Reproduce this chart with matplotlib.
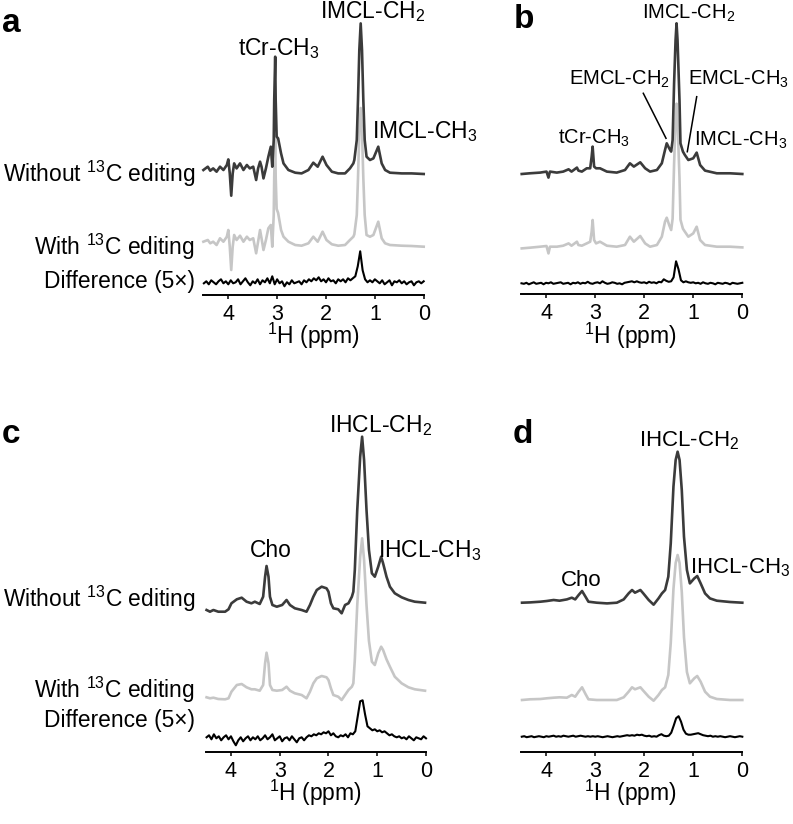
import matplotlib.pyplot as plt
from matplotlib.lines import Line2D
import numpy as np

plt.rcParams['font.family'] = ['Liberation Sans', 'DejaVu Sans']
plt.rcParams['mathtext.fontset'] = 'custom'
plt.rcParams['mathtext.rm'] = 'Liberation Sans'
plt.rcParams['mathtext.it'] = 'Liberation Sans:italic'
plt.rcParams['mathtext.bf'] = 'Liberation Sans:bold'

# Spectra (intensity above each trace baseline, arbitrary units).
ppm_a = [4.51, 4.42, 4.37, 4.31, 4.24, 4.17, 4.10, 4.03, 4.00, 3.97,
         3.94, 3.91, 3.88, 3.83, 3.76, 3.69, 3.62, 3.56, 3.49, 3.43,
         3.39, 3.35, 3.32, 3.28, 3.23, 3.18, 3.13, 3.10, 3.07, 3.06,
         3.04, 3.03, 3.01, 2.98, 2.92, 2.87, 2.77, 2.63, 2.50, 2.36,
         2.26, 2.17, 2.07, 1.99, 1.88, 1.75, 1.61, 1.51, 1.44, 1.42,
         1.37, 1.345, 1.318, 1.29, 1.263, 1.236, 1.208, 1.17, 1.10, 1.03,
         0.93, 0.86, 0.79, 0.69, 0.45, 0.25, 0.00]
a_without = [2.7, 6, 2, 4.3, 1, 6, 2.7, 7.7, 13.3, -0.7,
             -23, -0.7, 9.3, 4.3, 9.3, 2.7, 7.7, 4.3, 6, -7.3,
             4.3, 11, 6, -5.7, 4.3, 16, 26, 6, 32.7, 72.7,
             116, 72.7, 36, 34.3, 19.3, 9.3, 2.7, 0, -0.7, 2.7,
             10, 6, 16, 7.7, 1, -0.7, -0.7, 4.3, 9.3, 12.7,
             32.7, 72.7, 122.7, 149.3, 122.7, 72.7, 32.7, 16, 12.7, 14.3,
             26, 9.3, 2.7, 0, -0.7, -0.7, -1.3]
a_with = [3.3, 5, 1.7, 3.3, 0, 6.7, 3.3, 8.3, 15, -1.7,
          -25, -1.7, 10, 5, 9.3, 3.3, 8.3, 5, 6.7, -8.3,
          3.3, 15, 6.7, -5, 5, 16.7, 20, -1.7, 30, 68,
          110, 68, 36, 32, 15, 8.3, 3.3, 0, -0.7, 1.7,
          8.3, 3.3, 13.3, 5, 0.7, -0.7, 0, 5, 8.3, 10.7,
          30, 67, 113, 137, 113, 67, 30, 10, 8.3, 10,
          23.3, 6.7, 1.7, 0, -0.7, -1, -1.7]

ppm_b = [4.495, 4.33, 4.12, 3.99, 3.95, 3.92, 3.78, 3.65, 3.54, 3.48,
         3.37, 3.34, 3.27, 3.17, 3.10, 3.07, 3.05, 3.02, 2.98, 2.90,
         2.76, 2.56, 2.39, 2.29, 2.21, 2.08, 1.98, 1.88, 1.74, 1.64,
         1.575, 1.54, 1.49, 1.45, 1.42, 1.39, 1.36, 1.34, 1.32, 1.28,
         1.26, 1.21, 1.17, 1.10, 1.00, 0.93, 0.86, 0.76, 0.52, 0.25,
         0.00]
b_without = [-0.7, 0, 0.7, 1.7, -4.3, 1.7, 0.7, 1.7, 4, 1.7,
             5.7, 2.7, 1.7, 5, 5, 16.7, 26.7, 6.7, 5, 5,
             1.7, 0.7, 3.3, 10, 6.7, 11, 5, 1.7, 3.3, 10,
             23.3, 30, 25, 21.7, 33.3, 90, 133.3, 150, 133.3, 73.3,
             30, 21.7, 18.3, 13.3, 15, 20.7, 8.3, 2.7, 0, 0,
             -0.7]
b_with = [-0.7, 0, 1, 1.7, -5.7, 1, 1, 2, 4.3, 2,
          6, 2.7, 2, 4.3, 6, 16, 27.7, 7.7, 4.3, 6,
          2, 1, 2.7, 11, 6, 11.7, 4.3, 1, 2.7, 11,
          26, 30, 22.7, 17.7, 29, 84, 127, 144, 127, 70,
          28, 19, 16, 11, 14.3, 21, 7.7, 2.7, 1, 1,
          0.3]

ppm_c = [4.50, 4.43, 4.36, 4.26, 4.12, 4.05, 3.99, 3.88, 3.78, 3.68,
         3.58, 3.51, 3.41, 3.34, 3.30, 3.27, 3.23, 3.20, 3.15, 3.06,
         2.95, 2.86, 2.79, 2.69, 2.55, 2.45, 2.38, 2.31, 2.24, 2.14,
         2.04, 2.00, 1.95, 1.90, 1.80, 1.73, 1.66, 1.59, 1.52, 1.49,
         1.46, 1.41, 1.35, 1.31, 1.27, 1.22, 1.17, 1.11, 1.05, 0.98,
         0.92, 0.88, 0.81, 0.74, 0.64, 0.50, 0.36, 0.23, 0.02]
c_without = [-5, -6.7, -5, -6.7, -6.7, -4.3, 1.7, 5.7, 7.3, 3.3,
             1.7, 3.3, 1, 8.3, 28.3, 39, 28.3, 8.3, 0, -1.7,
             0, 5, 0, -3.3, -5, -6.7, 0, 8.3, 15, 18.3,
             16.7, 13.3, 1.7, -3.3, -4.3, -8.3, 0, 1.7, 8.3, 13.3,
             35, 95, 148.3, 168.3, 145, 95, 55, 31.7, 28.3, 38.3,
             48.3, 41.7, 28.3, 18.3, 11.7, 7.7, 5, 3.3, 2.3]
c_with = [-6.3, -7.3, -6.7, -8, -8.3, -7.3, -0.7, 6, 7, 3.7,
          1.7, 1.7, 0.3, 6, 27.7, 38.3, 27.7, 6, 1, 0.3,
          1, 4.3, 0.3, -2.3, -4, -7.3, -0.7, 7.7, 12.7, 15,
          13.7, 11, 2.7, -4, -5.7, -9, -4, 1, 4.3, 7.7,
          31, 86, 134, 152.7, 131, 86, 50, 29.3, 26, 37.7,
          44.3, 41, 31.7, 24.3, 14.3, 7.7, 3.7, 1.7, 0.3]

ppm_d = [4.495, 4.33, 4.12, 3.99, 3.85, 3.73, 3.58, 3.48, 3.41, 3.34,
         3.27, 3.20, 3.14, 2.97, 2.76, 2.56, 2.42, 2.32, 2.25, 2.19,
         2.08, 2.02, 1.91, 1.81, 1.71, 1.64, 1.575, 1.51, 1.46, 1.405,
         1.36, 1.32, 1.28, 1.235, 1.19, 1.13, 1.07, 0.98, 0.92, 0.85,
         0.76, 0.66, 0.52, 0.25, 0.00]
d_without = [0, 0.3, 1, 1.7, 2.7, 2, 3.3, 5, 3.3, 7.7,
             11.7, 6, 1, 0, -0.7, 0, 3.3, 9.3, 12.7, 10,
             12.7, 9.3, 2.7, -2, 4.3, 9.3, 12.7, 26, 59.3, 116,
             142.7, 151, 142.7, 112.7, 66, 32.7, 19.3, 24.3, 26.7, 19.3,
             9.3, 4.3, 2, 0.7, 0]
d_with = [0, 0.7, 1, 1.7, 2.3, 2.7, 2.3, 5, 3.3, 8.3,
          12.7, 6, 0.7, 0, 0, 0, 2.7, 8.3, 12.7, 10.7,
          12.7, 9.3, 3.3, -0.7, 5, 10, 12.7, 25, 57, 111,
          137, 145, 137, 108, 63, 28, 16.7, 21.7, 24, 18.3,
          8.3, 3.3, 1, 0, 0]

# Difference spectra (5x), sampled every 0.05 ppm.
ppm_diff = [4.50, 4.45, 4.40, 4.35, 4.30, 4.25, 4.20, 4.15, 4.10, 4.05,
            4.00, 3.95, 3.90, 3.85, 3.80, 3.75, 3.70, 3.65, 3.60, 3.55,
            3.50, 3.45, 3.40, 3.35, 3.30, 3.25, 3.20, 3.15, 3.10, 3.05,
            3.00, 2.95, 2.90, 2.85, 2.80, 2.75, 2.70, 2.65, 2.60, 2.55,
            2.50, 2.45, 2.40, 2.35, 2.30, 2.25, 2.20, 2.15, 2.10, 2.05,
            2.00, 1.95, 1.90, 1.85, 1.80, 1.75, 1.70, 1.65, 1.60, 1.55,
            1.50, 1.45, 1.40, 1.35, 1.30, 1.25, 1.20, 1.15, 1.10, 1.05,
            1.00, 0.95, 0.90, 0.85, 0.80, 0.75, 0.70, 0.65, 0.60, 0.55,
            0.50, 0.45, 0.40, 0.35, 0.30, 0.25, 0.20, 0.15, 0.10, 0.05,
            0.00]
a_diff = [-1, 1, -2, 2, 0, -2, 1, 3, -1, 1,
          -2, 2, -1, 0, 3, -2, 1, 4, 0, -3,
          1, -1, 3, -2, 2, 0, 4, -1, 6, -2,
          3, -1, 1, -4, 0, -2, 2, -1, 0, 1,
          -2, 2, 0, 3, 1, 4, 2, 5, 1, 3,
          0, 4, 1, 2, -1, 3, 1, 3, 0, 4,
          2, 4, 6, 16, 31, 12, 3, 0, 2, 0,
          3, 1, -1, 2, -2, 0, 2, -3, 1, 0,
          2, -1, 1, -2, 0, 1, -3, 0, 1, -1,
          1]
b_diff = [0, -0.5, 0.5, -1, 0, 1, -0.5, 0, 0.5, -1,
          0.5, 0, 1, -0.5, 0, 0.5, 1, -0.5, 0, 0.5,
          -1, 0.5, 0, 1, -0.5, 0.5, 0, 1.5, 0, -0.5,
          0.5, 1, 0, 2, 0.5, -0.5, 0, 1, 0.5, -0.5,
          0, -1, 0.5, 1, 1.5, 2, 1, 2, 1, 0.5,
          1, 0, 1.5, 0.5, 1, 0, 1.5, 1, 4, 2.5,
          1.5, 2, 6, 22, 14, 3, 1, 2, 1, 0.5,
          1, 0, 0.5, -0.5, 1, 0, -0.5, 0.5, 0, -1,
          0.5, 0, -0.5, 0.5, 0, -1, 0.5, 0, -0.5, 0,
          0.5]
c_diff = [1, 3, -1, 4, 0, 2, -2, 1, 3, -1,
          2, -3, -7, -2, 1, -3, 0, 2, -2, 1,
          -1, 2, -2, 0, 3, -1, 1, 4, -2, 0,
          2, -3, 0, 1, -2, 2, -1, -4, 0, 1,
          -2, 1, 3, 2, 4, 3, 5, 4, 6, 5,
          7, 3, 5, 2, 1, 3, 2, 4, 1, 5,
          4, 7, 22, 37, 38, 24, 12, 10, 8, 9,
          7, 8, 6, 7, 5, 3, 4, 2, 1, 2,
          0, 1, -1, 2, 0, -2, 1, 0, -1, 2,
          0]
d_diff = [0, 0.5, -0.5, 0, 0.5, -0.5, 0, 0.5, 0, -0.5,
          0.5, 0, 0.5, 1, 0, 0.5, 0, 1, 0.5, 0,
          0.5, 1, 0, 0.5, 1, 0.5, 0, 0.5, 0, 0.5,
          0, 0.5, 0, -0.5, 0, 0.5, 0, -0.5, 0, 0.5,
          0, 0.5, 1, 1.5, 1, 1.5, 1, 2, 1.5, 2,
          1, 0.5, 1, 0, 0.5, 0, 1.5, 2.5, 1, 0.5,
          1, 4, 11, 18.5, 20.5, 15, 7, 3, 2, 2,
          2.5, 3, 3.5, 2.5, 1.5, 1, 0.5, 1, 0, 0.5,
          0, 0.5, 0, -0.5, 0, 0.5, 0, -0.5, 0, 0.5,
          0]

W, H = 793, 824
fig = plt.figure(figsize=(W / 100, H / 100), dpi=100)


def fx(x):
    return x / W


def fy(y):
    return 1 - y / H


col_without = '#3b3b3b'
col_with = '#c6c6c6'
col_diff = '#000000'

# (ppm, without, with, diff, axes box in px [left, width, spine_y, top_y], baselines)
panels = [
    (ppm_a, a_without, a_with, a_diff, (202.9, 220.8, 295, 0), (122.3, 50, 12.7)),
    (ppm_b, b_without, b_with, b_diff, (520.5, 221.8, 294, 0), (120.7, 46.3, 10.7)),
    (ppm_c, c_without, c_with, c_diff, (205.6, 220.4, 751.7, 400), (146.7, 60.7, 13.4)),
    (ppm_d, d_without, d_with, d_diff, (520.8, 221.5, 752, 400), (149.3, 52, 15.3)),
]

for ppm, without, with_, diff, box, base in panels:
    left, width, spine_y, top_y = box
    ax = fig.add_axes([fx(left), fy(spine_y), width / W, (spine_y - top_y) / H])
    ax.patch.set_alpha(0)
    ax.plot(ppm, np.array(with_) + base[1], color=col_with, lw=1.9, clip_on=False)
    ax.plot(ppm, np.array(without) + base[0], color=col_without, lw=1.9, clip_on=False)
    ax.plot(ppm_diff, np.array(diff) + base[2], color=col_diff, lw=1.5, clip_on=False)
    ax.set_xlim(4.52, 0)
    ax.set_ylim(0, spine_y - top_y)
    for s in ['top', 'right', 'left']:
        ax.spines[s].set_visible(False)
    ax.spines['bottom'].set_linewidth(1.4)
    ax.set_yticks([])
    ax.set_xticks([4, 3, 2, 1, 0])
    ax.set_xticklabels(['4', '3', '2', '1', '0'])
    ax.tick_params(axis='x', labelsize=15.5, length=3, width=1.1, pad=3.5)

# Panel letters.
for s, x, y in [('a', 2, 31.7), ('b', 514, 28.3), ('c', 2, 443.3), ('d', 513, 443.3)]:
    fig.text(fx(x), fy(y), s, fontsize=24, fontweight='bold', va='baseline', ha='left')

# Row labels on the left.
row_labels = [r'Without $^{\mathrm{13}}$C editing', r'With $^{\mathrm{13}}$C editing',
              u'Difference (5\u00d7)']
for ys in [(181.7, 255, 288.3), (606.7, 698, 727)]:
    for lab, y in zip(row_labels, ys):
        fig.text(fx(195), fy(y), lab, fontsize=16.4, ha='right', va='baseline')

# Axis labels.
for x, y in [(313, 344), (630, 344), (315, 801), (630, 801)]:
    fig.text(fx(x), fy(y), r'$^{\mathrm{1}}$H (ppm)', fontsize=16.5, ha='center', va='baseline')

# Peak annotations.
fig.text(fx(279), fy(55), r'tCr-CH$_3$', fontsize=16.5, ha='center', va='baseline')
fig.text(fx(372.5), fy(18.3), r'IMCL-CH$_2$', fontsize=16.5, ha='center', va='baseline')
fig.text(fx(372), fy(138.3), r'IMCL-CH$_3$', fontsize=16.5, ha='left', va='baseline')

fig.text(fx(689), fy(18.3), r'IMCL-CH$_2$', fontsize=14.5, ha='center', va='baseline')
fig.text(fx(620), fy(85), r'EMCL-CH$_2$', fontsize=14.5, ha='center', va='baseline')
fig.text(fx(688.3), fy(85), r'EMCL-CH$_3$', fontsize=14.5, ha='left', va='baseline')
fig.text(fx(594), fy(143.3), r'tCr-CH$_3$', fontsize=14.5, ha='center', va='baseline')
fig.text(fx(694.3), fy(146), r'IMCL-CH$_3$', fontsize=14.5, ha='left', va='baseline')
fig.add_artist(Line2D([fx(643.3), fx(666)], [fy(93.3), fy(138.3)], color='black', lw=1.1))
fig.add_artist(Line2D([fx(696.7), fx(687.3)], [fy(96.7), fy(151.7)], color='black', lw=1.1))

fig.text(fx(381), fy(431.7), r'IHCL-CH$_2$', fontsize=16.5, ha='center', va='baseline')
fig.text(fx(271), fy(556.7), 'Cho', fontsize=16.5, ha='center', va='baseline')
fig.text(fx(377.7), fy(556.7), r'IHCL-CH$_3$', fontsize=16.5, ha='left', va='baseline')

fig.text(fx(689), fy(446.7), r'IHCL-CH$_2$', fontsize=16, ha='center', va='baseline')
fig.text(fx(581), fy(586), 'Cho', fontsize=16, ha='center', va='baseline')
fig.text(fx(690), fy(573.3), r'IHCL-CH$_3$', fontsize=16, ha='left', va='baseline')

plt.savefig('out.png', dpi=100)
